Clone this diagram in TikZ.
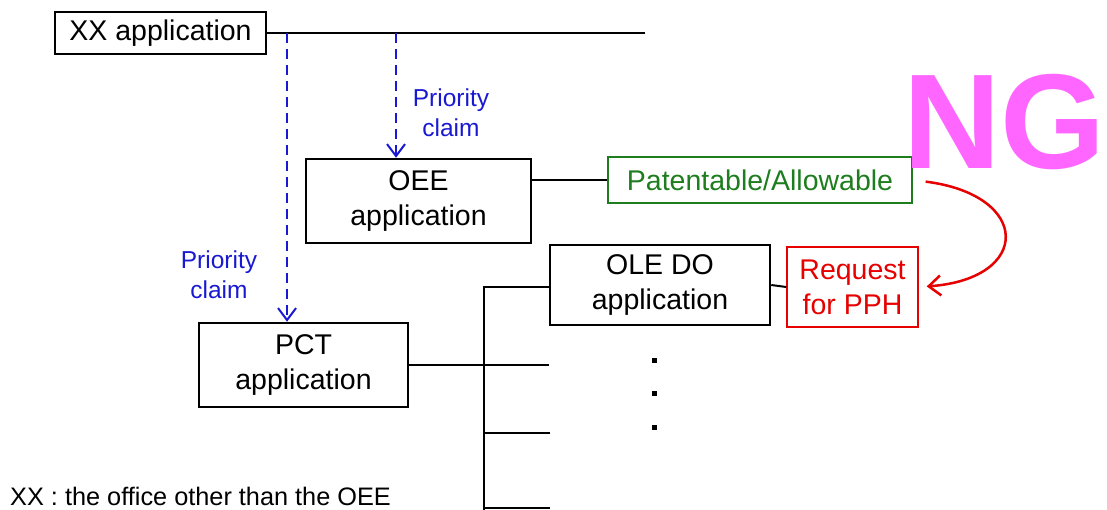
\documentclass[tikz,border=0pt]{standalone}
\usepackage{fontspec}
\setmainfont{Liberation Sans}
\usetikzlibrary{
arrows.meta,
calc,
positioning,
}
\definecolor{claimblue}{RGB}{25,25,210}
\definecolor{okgreen}{RGB}{30,125,30}
\definecolor{ngred}{RGB}{230,0,0}
\definecolor{ngpink}{RGB}{255,102,255}
\tikzset{
	appbox/.style={draw, line width=2.5pt, inner sep=0pt, align=center,
		font=\fontsize{28.5}{35}\selectfont},
	statebox/.style={draw=okgreen, text=okgreen, line width=1.5pt, inner sep=0pt,
		align=center, font=\fontsize{28.5}{35}\selectfont},
	pphbox/.style={draw=ngred, text=ngred, line width=1.5pt, inner sep=0pt,
		align=center, font=\fontsize{28.5}{35}\selectfont},
	claimlabel/.style={text=claimblue, align=center, inner sep=0pt,
		font=\fontsize{24.5}{30}\selectfont},
	claim/.style={draw=claimblue, line width=2pt, dash pattern=on 10pt off 6pt,
		-{Straight Barb[length=12pt,width=18pt,line width=2pt]}},
	link/.style={line width=2pt},
}
\begin{document}
\begin{tikzpicture}[x=1pt, y=-1pt]
			\useasboundingbox (0,0) rectangle (1107,510);
			\begin{scope}
			\clip (0,0) rectangle (1107,510);

			% nodes
			\node[appbox, minimum width=211pt, minimum height=42pt] (XX) at (160.5,33) {XX application};
			\node[appbox, minimum width=225pt, minimum height=84pt] (OEE) at (418.5,201) {OEE\\application};
			\node[statebox, minimum width=304pt, minimum height=46pt] (Pat) at (760,180) {Patentable/Allowable};
			\node[appbox, minimum width=220pt, minimum height=80pt] (OLE) at (660,285) {OLE DO\\application};
			\node[pphbox, minimum width=131pt, minimum height=80pt] (Req) at (852.5,287) {Request\\for PPH};
			\node[appbox, minimum width=209pt, minimum height=84pt] (PCT) at (303.5,365) {PCT\\application};

			\node[claimlabel] (L1) at (451,113) {Priority\\claim};
			\node[claimlabel] (L2) at (219,275) {Priority\\claim};

			\node[text=ngpink, anchor=base west, inner sep=0pt,
				font=\fontsize{135}{135}\selectfont\bfseries] (NG) at (903,169) {NG};
			\node[anchor=base west, inner sep=0pt, font=\fontsize{25.3}{30}\selectfont] (note) at (10,505)
				{XX : the office other than the OEE};

			% time line and priority claims
			\coordinate (XXend) at (645,33);
			\coordinate (C1) at (287,33);
			\coordinate (C2) at (396,33);
			\draw[link] (XX.east) -- (XXend);
			\draw[claim] (C1) -- (C1 |- PCT.north);
			\draw[claim] (C2) -- (C2 |- OEE.north);

			% OEE result
			\draw[link] (Pat.west) -- (Pat.west -| OEE.east);
			\draw[link] (OLE.east) -- (Req.west);

			% national phase tree
			\coordinate (T) at (484,287);
			\coordinate (Tend) at (484,512);
			\draw[link] (T -| OLE.west) -- (T) -- (Tend);
			\draw[link] (PCT.east) -- (PCT.east -| OLE.west);
			\foreach \y in {433,508}
				\draw[link] (484,\y) -- (550,\y);
			\foreach \y in {360,393,427}
				\fill (651.5,\y-2.5) rectangle ++(5,5);

			% request for PPH
			\draw[ngred, line width=2.5pt, shorten <=13pt, shorten >=8pt,
				-{Straight Barb[length=12pt,width=20pt,line width=2.5pt]}]
				(Pat.east) .. controls +(119,15) and +(113,-8) .. (Req.east);
			\end{scope}
		\end{tikzpicture}
\end{document}
